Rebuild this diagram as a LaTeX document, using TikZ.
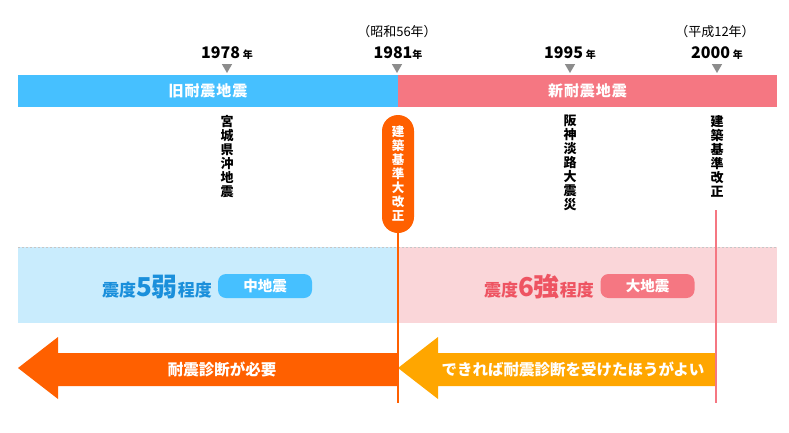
\documentclass[tikz,border=0pt]{standalone}
\usepackage{fontspec}
\setmainfont{Noto Sans CJK JP}
\usepackage{xcolor}
\definecolor{oldblue}{HTML}{46C0FF}
\definecolor{newred}{HTML}{F57782}
\definecolor{softblue}{HTML}{C9ECFD}
\definecolor{softred}{HTML}{FAD6D9}
\definecolor{deepblue}{HTML}{1A8FDB}
\definecolor{deepred}{HTML}{EE5462}
\definecolor{fire}{HTML}{FF6000}
\definecolor{amber}{HTML}{FFA600}
\definecolor{marker}{HTML}{8C8C8C}
\usepackage{tikz}
\usetikzlibrary{shapes.geometric,positioning}

\begin{document}
\begin{tikzpicture}[x=1pt,y=-1pt,
  bar/.style={rectangle,minimum height=32,inner sep=0,text=white,
    font=\fontsize{15}{17}\selectfont\bfseries\addfontfeatures{LetterSpace=6}},
  year/.style={inner sep=0,font=\fontsize{16}{18}\selectfont\bfseries},
  era/.style={inner sep=0,font=\fontsize{13}{15}\selectfont},
  tri/.style={regular polygon,regular polygon sides=3,shape border rotate=180,
    fill=marker,minimum size=12,inner sep=0},
  vtext/.style={inner sep=0,align=center,anchor=north,
    font=\fontsize{13}{14}\selectfont\bfseries},
  pill/.style={rectangle,rounded corners=8,minimum width=94,minimum height=24,
    inner sep=0,text=white,font=\fontsize{14.5}{16}\selectfont\bfseries},
  grade/.style={inner sep=0,font=\fontsize{17}{19}\selectfont\bfseries},
  arrowtext/.style={inner sep=0,text=white,font=\fontsize{15.5}{17}\selectfont\bfseries}]
  \useasboundingbox (0,0) rectangle (789,432);
  \node[bar,fill=oldblue,minimum width=380] (oldbar) at (208,91) {旧耐震地震};
  \node[bar,fill=newred,minimum width=379] (newbar) at (587.5,91) {新耐震地震};
  \node[year] (y1978) at (227,53) {1978\,{\fontsize{10}{10}\selectfont 年}};
  \node[year] (y1981) at (398,53) {1981{\fontsize{10}{10}\selectfont 年}};
  \node[year] (y1995) at (570,53) {1995\,{\fontsize{10}{10}\selectfont 年}};
  \node[year] (y2000) at (717,53) {2000\,{\fontsize{10}{10}\selectfont 年}};
  \node[era] (showa) at (397,32) {（昭和56年）};
  \node[era] (heisei) at (715,32) {（平成12年）};
  \node[tri] (t1978) at (227,67) {};
  \node[tri] (t1981) at (397,67) {};
  \node[tri] (t1995) at (570,67) {};
  \node[tri] (t2000) at (717,67) {};
  \fill[softblue] (18,247) rectangle (398,323);
  \fill[softred] (398,247) rectangle (777,323);
  \draw[gray!45,dash pattern=on 2pt off 2pt] (18,247) -- (777,247);
  \node[vtext] (miyagi) at (227,115) {宮\\城\\県\\沖\\地\\震};
  \node[vtext] (hanshin) at (570,115) {阪\\神\\淡\\路\\大\\震\\災};
  \node[vtext] (kaisei) at (717,115) {建\\築\\基\\準\\改\\正};
  \node[rectangle,rounded corners=16,fill=fire,minimum width=32,minimum height=118,
    inner sep=0,align=center,text=white,font=\fontsize{12.5}{14}\selectfont\bfseries]
    (daikaisei) at (398,174) {建\\築\\基\\準\\大\\改\\正};
  \coordinate (fireend) at (398,403);
  \coordinate (pinktop) at (716,210);
  \coordinate (pinkend) at (716,403);
  \node[grade,text=deepblue] (shindo5) at (157,287)
    {震度{\fontsize{26}{26}\selectfont 5弱}程度};
  \node[pill,fill=oldblue] (chu) at (265,286) {中地震};
  \node[grade,text=deepred] (shindo6) at (539,287)
    {震度{\fontsize{26}{26}\selectfont 6強}程度};
  \node[pill,fill=newred] (dai) at (647.5,286) {大地震};
  \fill[fire] (18,368) -- (58,337) -- (58,353) -- (398,353) -- (398,386)
    -- (58,386) -- (58,399) -- cycle;
  \fill[amber] (398,368) -- (438,337) -- (438,353) -- (715,353) -- (715,386)
    -- (438,386) -- (438,399) -- cycle;
  \node[arrowtext] (need) at (222,369) {耐震診断が必要};
  \node[arrowtext] (better) at (573,369) {できれば耐震診断を受けたほうがよい};
  \draw[fire,line width=2] (daikaisei.south) -- (fireend);
  \draw[newred,line width=2] (pinktop) -- (pinkend);
\end{tikzpicture}
\end{document}
